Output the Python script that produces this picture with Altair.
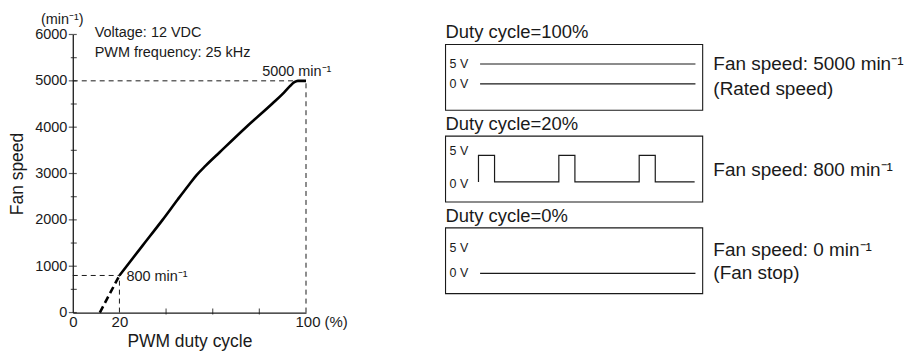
import altair as alt
import pandas as pd

FONT = "Liberation Sans"
INK = "#1a1a1a"

# ---------------- left chart data ----------------
solid_x = [20, 30, 38.5, 45, 50, 53, 57, 63, 74.3, 85.6, 90, 93, 95, 96.5, 100]
solid_y = [800, 1450, 2000, 2440, 2770, 2960, 3170, 3460, 4000, 4510, 4720, 4880, 4970, 5000, 5000]
dash_x = [11.6, 20]
dash_y = [0, 800]

ref_x = [0, 100, 0, 20]
ref_x2 = [100, 100, 20, 20]
ref_y = [5000, 0, 800, 0]
ref_y2 = [5000, 5000, 800, 800]

y_major = [0, 1000, 2000, 3000, 4000, 5000, 6000]
y_minor = [500, 1500, 2500, 3500, 4500, 5500]
x_minor = [40, 60, 80]
x_labels = [0, 20, 100]

note_text = ["(min⁻¹)", "Voltage: 12 VDC", "PWM frequency: 25 kHz", "5000 min⁻¹", "800 min⁻¹"]
note_x = [-4.5, 9.4, 9.4, 81.2, 23]
note_y = [6320, 6040, 5600, 5200, 760]
note_align = ["center", "left", "left", "left", "left"]

# ---------------- right diagrams data ----------------
box_titles = ["Duty cycle=100%", "Duty cycle=20%", "Duty cycle=0%"]
box_vmin = [-6.6, -3.75, -3.9]
box_vmax = [9.9, 8.6, 8.8]
box_top_px = [10, 102, 194]
box_bottom_px = [76, 168, 260]
t_dom = [0, 3.2]
t_px = [374, 632]

flat_levels = [[5, 0], [], [0]]
flat_t0 = 0.43
flat_t1 = 3.11

pwm_t = [0.41, 0.41, 0.61, 0.61, 1.41, 1.41, 1.61, 1.61, 2.41, 2.41, 2.61, 2.61, 3.1]
pwm_v = [0, 5, 5, 0, 0, 5, 5, 0, 0, 5, 5, 0, 0]

level_labels = ["5 V", "0 V"]
level_label_v = [[5, 0], [5.8, -0.4], [5, 0]]
level_label_t = 0.05

side_text = [["Fan speed: 5000 min⁻¹", "(Rated speed)"],
             ["Fan speed: 800 min⁻¹"],
             ["Fan speed: 0 min⁻¹", "(Fan stop)"]]
side_v = [[5.1, -1.3], [2.25], [4.5, 0.05]]
side_t = 3.333

# ---------------- left chart ----------------
W, H = 234, 279
xs = alt.Scale(domain=[0, 100], range=[0, W], nice=False, zero=False)
ys = alt.Scale(domain=[0, 6000], range=[H, 0], nice=False, zero=False)

x_axis = alt.Axis(
    values=x_labels, ticks=False, grid=False, title="PWM duty cycle",
    labelExpr="datum.value == 100 ? '100 (%)' : datum.label",
    labelAlign=alt.condition("datum.value == 100", alt.value("left"), alt.value("center")),
    labelOffset=alt.condition("datum.value == 100", alt.value(-11), alt.value(0)),
    labelPadding=2, labelFontSize=15, titleFontSize=17.5, titlePadding=3,
    titleFontWeight="normal", domainColor=INK, domainWidth=1.3, labelColor=INK, titleColor=INK,
    labelFont=FONT, titleFont=FONT,
)
y_axis = alt.Axis(
    values=y_major, ticks=False, grid=False, title="Fan speed", format="d",
    labelPadding=6, labelFontSize=14.5, titleFontSize=17.5, titlePadding=8,
    titleFontWeight="normal", domainColor=INK, domainWidth=1.3, labelColor=INK, titleColor=INK,
    labelFont=FONT, titleFont=FONT,
)

def X(field):
    return alt.X(field, type="quantitative", scale=xs, axis=x_axis)

def Y(field):
    return alt.Y(field, type="quantitative", scale=ys, axis=y_axis)

solid_df = pd.DataFrame({"x": solid_x, "y": solid_y})
dash_df = pd.DataFrame({"x": dash_x, "y": dash_y})
ref_df = pd.DataFrame({"x": ref_x, "x2": ref_x2, "y": ref_y, "y2": ref_y2})
ymaj_df = pd.DataFrame({"x": [0] * len(y_major), "y": y_major})
ymin_df = pd.DataFrame({"x": [0] * len(y_minor), "y": y_minor})
xmin_df = pd.DataFrame({"x": x_minor, "y": [0] * len(x_minor)})
note_df = pd.DataFrame({"x": note_x, "y": note_y, "t": note_text, "a": note_align})

ref_layer = alt.Chart(ref_df).mark_rule(color=INK, strokeWidth=1, strokeDash=[5, 4]).encode(
    x=X("x"), x2="x2", y=Y("y"), y2="y2")
solid_layer = alt.Chart(solid_df).mark_line(color="black", strokeWidth=2.6, interpolate="monotone").encode(
    x=X("x"), y=Y("y"))
dash_layer = alt.Chart(dash_df).mark_line(color="black", strokeWidth=2.6, strokeDash=[7, 4]).encode(
    x=X("x"), y=Y("y"))
ymaj_layer = alt.Chart(ymaj_df).mark_tick(orient="horizontal", size=8, thickness=1.2, color=INK).encode(
    x=X("x"), y=Y("y"))
ymin_layer = alt.Chart(ymin_df).mark_tick(orient="horizontal", size=6, thickness=1.2, color=INK, xOffset=1).encode(
    x=X("x"), y=Y("y"))
xmin_layer = alt.Chart(xmin_df).mark_tick(orient="vertical", size=6, thickness=1.2, color=INK, yOffset=-1).encode(
    x=X("x"), y=Y("y"))

note_layers = []
for a in ["center", "left"]:
    note_layers.append(
        alt.Chart(note_df[note_df["a"] == a]).mark_text(
            align=a, baseline="middle", font=FONT, fontSize=14.5, color=INK
        ).encode(x=X("x"), y=Y("y"), text="t:N")
    )

left = alt.layer(ref_layer, dash_layer, solid_layer, ymaj_layer, ymin_layer, xmin_layer, *note_layers)

# ---------------- right diagrams ----------------
box_layers = []
for i in range(3):
    tsc = alt.Scale(domain=t_dom, range=t_px, nice=False, zero=False)
    vsc = alt.Scale(domain=[box_vmin[i], box_vmax[i]], range=[box_bottom_px[i], box_top_px[i]],
                    nice=False, zero=False)
    TX = lambda f: alt.X(f, type="quantitative", scale=tsc, axis=None)
    VY = lambda f: alt.Y(f, type="quantitative", scale=vsc, axis=None)

    rect_df = pd.DataFrame({"t0": [t_dom[0]], "t1": [t_dom[1]], "v0": [box_vmin[i]], "v1": [box_vmax[i]],
                            "title": [box_titles[i]]})
    layers = [
        alt.Chart(rect_df).mark_rect(filled=False, stroke=INK, strokeWidth=1.1).encode(
            x=TX("t0"), x2="t1", y=VY("v0"), y2="v1"),
        alt.Chart(rect_df).mark_text(align="left", baseline="alphabetic", dy=-6, font=FONT,
                                     fontSize=18.5, color=INK).encode(
            x=TX("t0"), y=VY("v1"), text="title:N"),
    ]
    if flat_levels[i]:
        fl_df = pd.DataFrame({"t0": [flat_t0] * len(flat_levels[i]), "t1": [flat_t1] * len(flat_levels[i]),
                              "v": flat_levels[i]})
        layers.append(alt.Chart(fl_df).mark_rule(color=INK, strokeWidth=1.2).encode(
            x=TX("t0"), x2="t1", y=VY("v")))
    if i == 1:
        pw_df = pd.DataFrame({"t": pwm_t, "v": pwm_v, "k": list(range(len(pwm_t)))})
        layers.append(alt.Chart(pw_df).mark_line(color=INK, strokeWidth=1.2).encode(
            x=TX("t"), y=VY("v"), order="k:Q"))
    lab_df = pd.DataFrame({"t": [level_label_t] * 2, "v": level_label_v[i], "s": level_labels})
    layers.append(alt.Chart(lab_df).mark_text(align="left", baseline="middle", font=FONT,
                                              fontSize=12.5, color=INK).encode(
        x=TX("t"), y=VY("v"), text="s:N"))
    side_df = pd.DataFrame({"t": [side_t] * len(side_text[i]), "v": side_v[i], "s": side_text[i]})
    layers.append(alt.Chart(side_df).mark_text(align="left", baseline="middle", font=FONT,
                                               fontSize=19, color=INK).encode(
        x=TX("t"), y=VY("v"), text="s:N"))
    box_layers.append(alt.layer(*layers))

chart = alt.layer(left, *box_layers).resolve_scale(
    x="independent", y="independent"
).properties(
    width=W, height=H, padding={"left": 0, "top": 3, "right": 0, "bottom": 0}
).configure_view(stroke=None)

chart.save("out.html", embed_options={"renderer": "svg", "actions": False})
